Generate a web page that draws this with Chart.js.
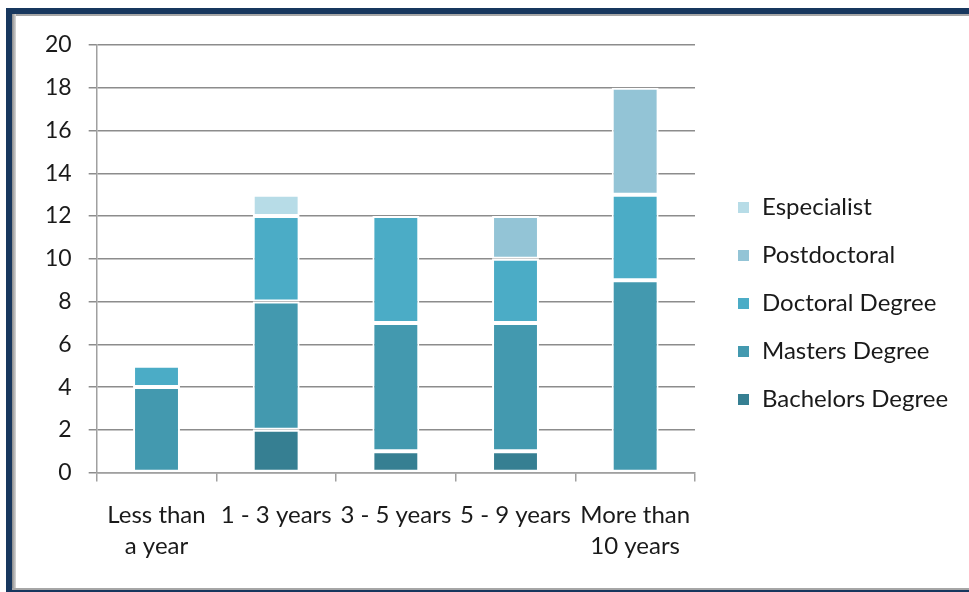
<!DOCTYPE html>
<html>
<head>
<meta charset="utf-8">
<script src="https://cdn.jsdelivr.net/npm/chart.js@4/dist/chart.umd.min.js"></script>
<style>
  html, body { margin: 0; padding: 0; background: #fff; }
  #wrap { position: relative; width: 969px; height: 592px; overflow: hidden; }
  #c { position: absolute; left: 0; top: 0; }
  .f { position: absolute; }
</style>
</head>
<body>
<div id="wrap">
  <canvas id="c" width="969" height="592"></canvas>
  <div class="f" style="left:6px;top:8px;width:963px;height:6px;background:#17375E"></div>
  <div class="f" style="left:12px;top:14px;width:957px;height:2px;background:#a6a6a6"></div>
  <div class="f" style="left:6px;top:8px;width:6px;height:584px;background:#17375E"></div>
  <div class="f" style="left:12px;top:14px;width:4px;height:576px;background:linear-gradient(to right,#8a8a8a,#d8d8d8)"></div>
  <div class="f" style="left:12px;top:588px;width:957px;height:2px;background:#a6a6a6"></div>
  <div class="f" style="left:6px;top:590px;width:963px;height:2px;background:#17375E"></div>
</div>
<script>
const categories = [["Less than", "a year"], "1 - 3 years", "3 - 5 years", "5 - 9 years", ["More than", "10 years"]];
const bachelors    = [0, 2, 1, 1, 0];
const masters      = [4, 6, 6, 6, 9];
const doctoral     = [1, 4, 5, 3, 4];
const postdoctoral = [0, 0, 0, 2, 5];
const especialist  = [0, 1, 0, 0, 0];
const yTicks = [0, 2, 4, 6, 8, 10, 12, 14, 16, 18, 20];

const FONT = "Lato, 'Open Sans', sans-serif";
const LEGEND_WIDTH = 274;   // space right of the plot area
const LEGEND_DX = 18;       // extra gap between plot and legend swatches
const LEGEND_DY = -9;       // vertical nudge of legend block

function ds(label, data, color) {
  return { label, data, backgroundColor: color, borderColor: '#ffffff', borderWidth: 2, borderSkipped: false,
           barPercentage: 0.8, categoryPercentage: 0.49 };
}

const legendTweak = {
  id: 'legendTweak',
  beforeLayout(chart) {
    const lg = chart.legend;
    if (lg && !lg._patched) {
      const orig = lg.fit.bind(lg);
      lg.fit = function () { orig(); this.width = LEGEND_WIDTH; };
      lg._patched = true;
    }
  },
  afterLayout(chart) {
    const lg = chart.legend;
    if (lg) {
      lg.left += LEGEND_DX; lg.right += LEGEND_DX;
      lg.top += LEGEND_DY; lg.bottom += LEGEND_DY;
    }
  }
};

new Chart(document.getElementById('c'), {
  type: 'bar',
  data: {
    labels: categories,
    datasets: [
      ds('Bachelors Degree', bachelors, '#367F92'),
      ds('Masters Degree', masters, '#4399AF'),
      ds('Doctoral Degree', doctoral, '#4BACC6'),
      ds('Postdoctoral', postdoctoral, '#93C4D6'),
      ds('Especialist', especialist, '#B7DCE7')
    ]
  },
  plugins: [legendTweak],
  options: {
    responsive: false,
    animation: false,
    devicePixelRatio: 1,
    layout: { padding: { left: 28, top: 45, right: 0, bottom: 12 } },
    plugins: {
      tooltip: { enabled: false },
      legend: {
        position: 'right',
        reverse: true,
        align: 'center',
        labels: {
          boxWidth: 13, boxHeight: 13, padding: 24, color: '#1a1a1a',
          font: { family: FONT, size: 24 }
        }
      }
    },
    scales: {
      x: {
        stacked: true,
        grid: { display: true, drawOnChartArea: false, drawTicks: true, tickLength: 9, color: '#a0a0a0', lineWidth: 1.5, offset: true },
        border: { display: true, color: '#a0a0a0', width: 1.5 },
        ticks: { color: '#1a1a1a', font: { family: FONT, size: 24, lineHeight: 1.3 }, padding: 18, maxRotation: 0, autoSkip: false }
      },
      y: {
        stacked: true,
        min: 0, max: 20,
        afterBuildTicks: (s) => { s.ticks = yTicks.map(v => ({ value: v })); },
        grid: { color: '#8c8c8c', lineWidth: 1.5, tickLength: 8 },
        border: { display: true, color: '#a0a0a0', width: 1.5 },
        ticks: { color: '#1a1a1a', font: { family: FONT, size: 23 }, padding: 17 }
      }
    }
  }
});
</script>
</body>
</html>
